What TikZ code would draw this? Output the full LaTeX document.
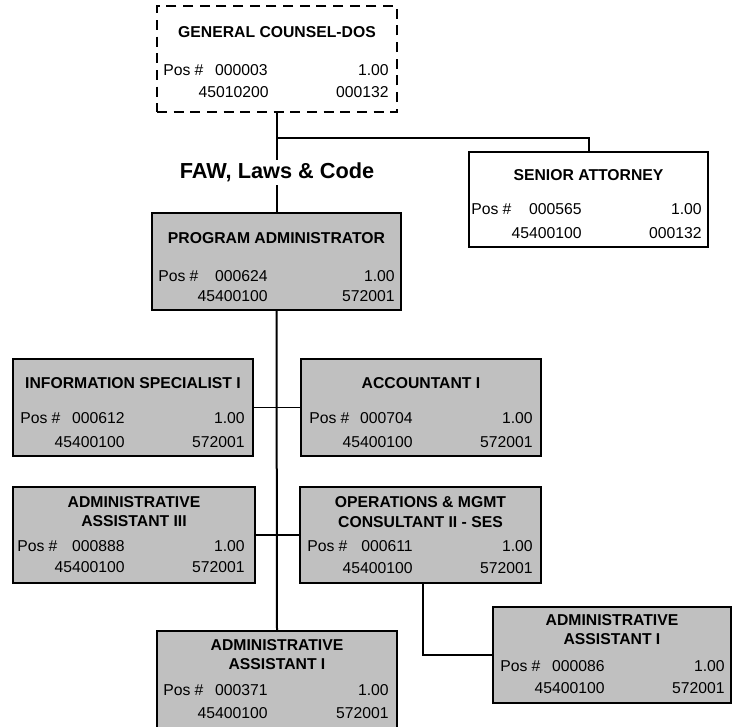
\documentclass[tikz,border=0pt]{standalone}
\usepackage{fontspec}
\setmainfont{Liberation Sans}
\usetikzlibrary{fit}

\definecolor{boxgray}{RGB}{192,192,192}

\tikzset{
  post/.style={draw=black, line width=1.5pt, fill=boxgray, inner sep=0pt},
  vacant/.style={draw=black, line width=1.5pt, fill=white, inner sep=0pt,
                 dash pattern=on 7.5pt off 5pt},
  cell/.style={inner sep=0pt, font=\fontsize{11.8pt}{14.5pt}\selectfont},
  title/.style={inner sep=0pt, align=center,
                font=\bfseries\fontsize{11.8pt}{14.5pt}\selectfont},
  unitlabel/.style={inner sep=0pt, font=\bfseries\fontsize{16.3pt}{19pt}\selectfont},
  link/.style={draw=black, line width=1.5pt},
  thinlink/.style={draw=black, line width=1pt},
}

% "Pos #" row: name, y, x of "Pos #", right x of id, right x of fte, id, fte
\newcommand\posline[7]{%
  \node[cell, anchor=west] (#1-pl)  at (#3,#2) {Pos \#};
  \node[cell, anchor=east] (#1-id)  at (#4,#2) {#6};
  \node[cell, anchor=east] (#1-fte) at (#5,#2) {#7};}
% code row: name, y, right x of code, right x of org, code, org
\newcommand\codeline[6]{%
  \node[cell, anchor=east] (#1-code) at (#3,#2) {#5};
  \node[cell, anchor=east] (#1-org)  at (#4,#2) {#6};}

\begin{document}
\begin{tikzpicture}[x=0.75pt, y=-0.75pt]
\useasboundingbox (0,0) rectangle (732,726);

% ---- position boxes ----
\node[vacant, fit={(157,6)(397,112)}]   (gc)  {};
\node[post, fill=white, fit={(469,152)(708,247)}] (sa) {};
\node[post, fit={(152,213)(401,310)}]   (pa)  {};
\node[post, fit={(13,359)(253,456)}]    (info) {};
\node[post, fit={(301,359)(541,456)}]   (acc) {};
\node[post, fit={(13,487)(255,583)}]    (aa3) {};
\node[post, fit={(300,487)(541,583)}]   (ops) {};
\node[post, fit={(493,607)(731,703)}]   (aa1r) {};
\node[post, fit={(157,631)(397,728)}]   (aa1) {};

% ---- General Counsel ----
\node[title] (gc-t) at (277,32) {GENERAL COUNSEL-DOS};
\posline{gc}{70}{163}{268}{389}{000003}{1.00}
\codeline{gc}{92}{269}{389}{45010200}{000132}

% ---- Senior Attorney ----
\node[title] (sa-t) at (588.5,175) {SENIOR ATTORNEY};
\posline{sa}{209}{471}{582}{702}{000565}{1.00}
\codeline{sa}{233}{582}{702}{45400100}{000132}

% ---- Program Administrator ----
\node[title] (pa-t) at (276.5,238) {PROGRAM ADMINISTRATOR};
\posline{pa}{276}{158}{268}{395}{000624}{1.00}
\codeline{pa}{296}{268}{395}{45400100}{572001}

% ---- Information Specialist I ----
\node[title] (info-t) at (133,383) {INFORMATION SPECIALIST I};
\posline{info}{418}{20}{125}{245}{000612}{1.00}
\codeline{info}{442}{125}{245}{45400100}{572001}

% ---- Accountant I ----
\node[title] (acc-t) at (421,383) {ACCOUNTANT I};
\posline{acc}{418}{309}{413}{533}{000704}{1.00}
\codeline{acc}{442}{413}{533}{45400100}{572001}

% ---- Administrative Assistant III ----
\node[title] (aa3-t) at (134,511.5) {ADMINISTRATIVE\\ASSISTANT III};
\posline{aa3}{546}{17}{125}{245}{000888}{1.00}
\codeline{aa3}{567}{125}{245}{45400100}{572001}

% ---- Operations & Mgmt Consultant II ----
\node[title] (ops-t) at (420.5,512) {OPERATIONS \& MGMT\\CONSULTANT II - SES};
\posline{ops}{546}{307}{413}{533}{000611}{1.00}
\codeline{ops}{568}{413}{533}{45400100}{572001}

% ---- Administrative Assistant I (right) ----
\node[title] (aa1r-t) at (612,629.5) {ADMINISTRATIVE\\ASSISTANT I};
\posline{aa1r}{666}{500}{605}{725}{000086}{1.00}
\codeline{aa1r}{688}{605}{725}{45400100}{572001}

% ---- Administrative Assistant I (bottom) ----
\node[title] (aa1-t) at (277,654.5) {ADMINISTRATIVE\\ASSISTANT I};
\posline{aa1}{690}{163}{268}{389}{000371}{1.00}
\codeline{aa1}{713}{268}{389}{45400100}{572001}

% ---- unit label ----
\node[unitlabel] (faw) at (277,172) {FAW, Laws \& Code};

% ---- reporting lines ----
\coordinate (split) at (277,138);
\draw[link] (gc.south) -- (faw.north |- 0,160);
\draw[link] (split) -| (sa.north);
\draw[link] (faw.south |- 0,185) -- (faw.south |- pa.north);
\draw[link] (pa.south) -- (aa1.north);
\draw[thinlink] (info.east) -- (acc.west);
\draw[link] (aa3.east) -- (ops.west);
\draw[link] ([xshift=1.5]ops.south) |- (aa1r.west);
\end{tikzpicture}
\end{document}
